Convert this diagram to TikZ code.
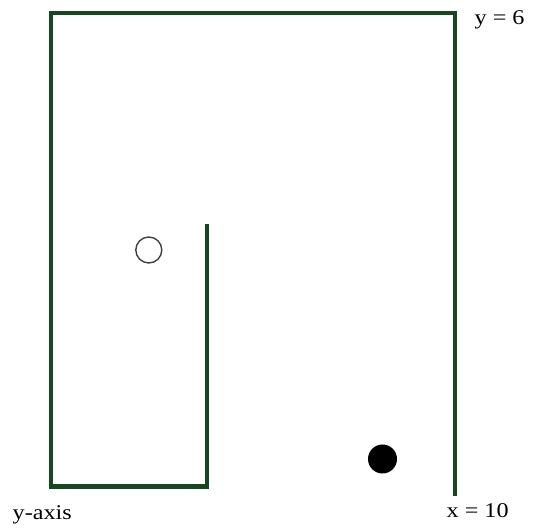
\documentclass[tikz,border=0pt]{standalone}
\usepackage{fontspec}
\setmainfont{Liberation Serif}
\definecolor{wallgreen}{RGB}{22,70,34}
\tikzset{
  wall/.style={draw=wallgreen, line width=4pt, line join=miter},
  lbl/.style={inner sep=0pt, anchor=base west, font=\fontsize{21}{25}\selectfont},
  opendot/.style={circle, draw=black!75, line width=1.4pt, fill=white, minimum size=26pt, inner sep=0pt},
  fulldot/.style={circle, fill=black, minimum size=29pt, inner sep=0pt}
}
\begin{document}
\begin{tikzpicture}[x=1pt, y=-1pt]
\useasboundingbox[fill=white] (0,0) rectangle (536,529);
\coordinate (innertop) at (206.7,224);
\coordinate (innerbot) at (206.7,486.5);
\coordinate (leftbot) at (50.5,486.5);
\coordinate (lefttop) at (50.5,13.5);
\coordinate (righttop) at (455,13.5);
\coordinate (rightbot) at (455,496);
\draw[wall] (innertop) -- (innerbot) -- (leftbot) -- (lefttop) -- (righttop) -- (rightbot);
\node[opendot] (start) at (148.8,250) {};
\node[fulldot] (goal) at (382.5,459) {};
\node[lbl] (ylab) at (474.5,25) {\scalebox{1.15}[1]{y = 6}};
\node[lbl] (xlab) at (446.5,517) {\scalebox{1.15}[1]{x = 10}};
\node[lbl] (axlab) at (12.5,519.5) {\scalebox{1.15}[1]{y-axis}};
\end{tikzpicture}
\end{document}
